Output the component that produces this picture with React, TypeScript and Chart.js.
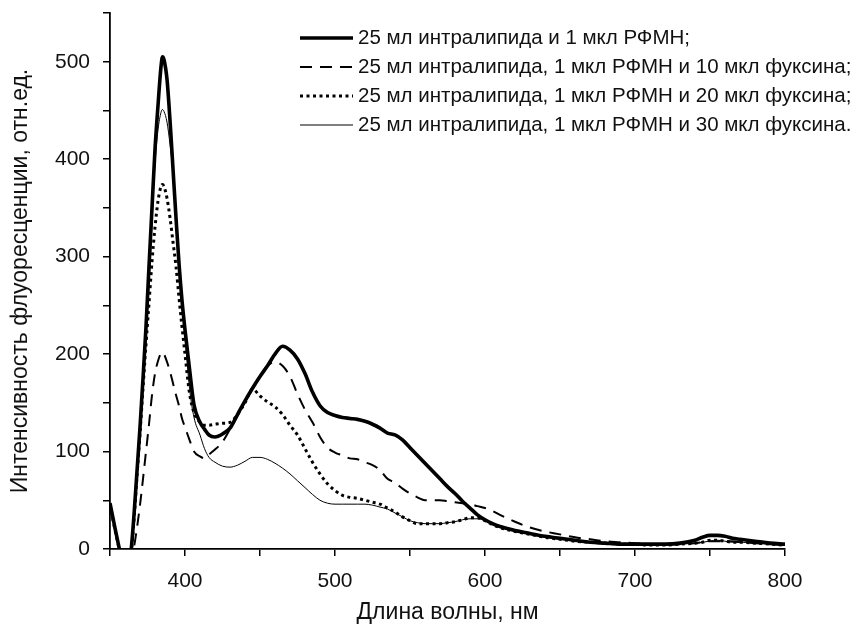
import React, { useEffect, useRef } from 'react';
import { Chart, registerables } from 'chart.js';

Chart.register(...registerables);

// Wavelength grid (nm)
const wavelengths = [
  350, 353, 356, 360, 364, 366, 368, 370, 372, 374,
  376, 378, 380, 382, 384, 385, 386, 388, 390, 392,
  394, 396, 398, 400, 403, 406, 410, 413, 416, 420,
  425, 430, 435, 440, 445, 450, 455, 460, 465, 470,
  475, 480, 485, 490, 495, 500, 505, 510, 515, 520,
  525, 530, 535, 540, 545, 550, 555, 560, 565, 570,
  575, 580, 585, 590, 595, 600, 605, 610, 620, 630,
  640, 650, 660, 670, 680, 690, 700, 710, 720, 730,
  740, 745, 750, 755, 760, 765, 770, 780, 790, 800,
];

const seriesLabels = [
  '25 мл интралипида и 1 мкл РФМН;',
  '25 мл интралипида, 1 мкл РФМН и 10 мкл фуксина;',
  '25 мл интралипида, 1 мкл РФМН и 20 мкл фуксина;',
  '25 мл интралипида, 1 мкл РФМН и 30 мкл фуксина.',
];

const rfmn = [
  47, 24, 2, -25, -2, 35, 80, 125, 175, 228,
  290, 350, 410, 455, 495, 505, 502, 482, 440, 390,
  340, 293, 255, 225, 185, 148, 130, 123, 117, 115,
  118, 124, 138, 152, 165, 177, 188, 200, 208, 204,
  195, 180, 161, 147, 140, 137, 135, 134, 133, 131,
  128, 124, 119, 117, 112, 104, 96, 88, 80, 72,
  64, 57, 49, 42, 35, 30, 26, 23, 19, 16,
  13, 11, 9, 7, 6, 5, 5, 5, 5, 6,
  9, 12, 14, 14, 13, 11, 10, 8, 6, 5,
];

const fuchsin10 = [
  45, 22, 1, -25, -10, 2, 22, 45, 72, 100,
  128, 158, 180, 193, 201, 202, 200, 192, 182, 170,
  158, 147, 134, 125, 112, 100, 95, 93, 97, 102,
  110, 123, 137, 151, 164, 178, 188, 192, 188, 177,
  159, 143, 130, 115, 104, 99, 96, 93, 92, 89,
  86, 81, 72, 68, 62, 57, 53, 50, 50, 50,
  49, 48, 47, 46, 44, 42, 39, 35, 28, 22,
  18, 15, 12, 10, 8, 7, 6, 5, 5, 5,
  6, 7, 8, 8, 8, 8, 7, 6, 5, 4,
];

const fuchsin20 = [
  45, 22, 1, -25, -5, 30, 75, 118, 165, 210,
  252, 295, 330, 357, 372, 374, 372, 360, 340, 315,
  290, 258, 228, 200, 160, 140, 130, 127, 127, 128,
  129, 130, 138, 150, 164, 157, 151, 146, 138, 127,
  117, 103, 89, 77, 67, 60, 55, 53, 52, 50,
  48, 46, 42, 38, 33, 29, 26, 26, 26, 26,
  27, 28, 30, 32, 32, 29, 25, 22, 18, 15,
  12, 10, 8, 7, 6, 5, 5, 4, 4, 5,
  6, 7, 9, 9, 8, 7, 7, 6, 5, 4,
];

const fuchsin30 = [
  45, 22, 1, -25, -2, 38, 78, 120, 165, 215,
  270, 335, 395, 430, 448, 451, 449, 438, 415, 385,
  340, 295, 255, 218, 165, 135, 117, 103, 94, 89,
  85, 84, 86, 90, 94, 94, 92, 88, 83, 77,
  70, 63, 56, 50, 47, 46, 46, 46, 46, 46,
  45, 43, 41, 37, 33, 29, 27, 26, 26, 26,
  27, 28, 30, 31, 31, 29, 25, 22, 18, 15,
  12, 10, 8, 7, 6, 5, 5, 4, 4, 5,
  6, 7, 8, 9, 8, 7, 7, 6, 5, 4,
];

const xTickValues = [350, 400, 450, 500, 550, 600, 650, 700, 750, 800];
const yTickValues = [0, 50, 100, 150, 200, 250, 300, 350, 400, 450, 500, 550];

const xTitle = 'Длина волны, нм';
const yTitle = 'Интенсивность флуоресценции, отн.ед.';

const FONT = "'Liberation Sans', Arial, Helvetica, sans-serif";
const INK = '#111';

export default function App() {
  const ref = useRef<HTMLCanvasElement>(null);

  useEffect(() => {
    if (!ref.current) return;
    const toPts = (arr: number[]) => wavelengths.map((w, i) => ({ x: w, y: arr[i] }));

    const styles = [
      { borderWidth: 3.6, borderDash: [] as number[] },
      { borderWidth: 2, borderDash: [12, 8] },
      { borderWidth: 3, borderDash: [3, 3.5] },
      { borderWidth: 1, borderDash: [] as number[] },
    ];
    const values = [rfmn, fuchsin10, fuchsin20, fuchsin30];

    const legendPlugin = {
      id: 'lineLegend',
      afterDraw(chart: any) {
        const ctx = chart.ctx;
        const area = chart.chartArea;
        ctx.save();
        chart.data.datasets.forEach((ds: any, i: number) => {
          const y = area.top + 25 + i * 29;
          const x0 = area.left + 190;
          const x1 = area.left + 243;
          ctx.beginPath();
          ctx.setLineDash(ds.borderDash || []);
          ctx.lineWidth = ds.borderWidth;
          ctx.strokeStyle = ds.borderColor;
          ctx.moveTo(x0, y);
          ctx.lineTo(x1, y);
          ctx.stroke();
          ctx.setLineDash([]);
          ctx.fillStyle = INK;
          ctx.font = `20.5px ${FONT}`;
          ctx.textBaseline = 'middle';
          ctx.textAlign = 'left';
          ctx.fillText(ds.label, x1 + 5, y);
        });
        ctx.restore();
      },
    };

    const chart = new Chart(ref.current, {
      type: 'line',
      data: {
        datasets: values.map((arr, i) => ({
          label: seriesLabels[i],
          data: toPts(arr),
          borderColor: '#000',
          borderWidth: styles[i].borderWidth,
          borderDash: styles[i].borderDash,
          borderCapStyle: 'butt',
          pointRadius: 0,
          fill: false,
          cubicInterpolationMode: 'monotone',
          clip: 0,
        })),
      },
      options: {
        responsive: false,
        animation: false,
        layout: { padding: { top: 13, right: 76, left: 0, bottom: 0 } },
        plugins: {
          legend: { display: false },
          tooltip: { enabled: false },
        },
        scales: {
          x: {
            type: 'linear',
            min: 350,
            max: 800,
            afterBuildTicks: (s: any) => {
              s.ticks = xTickValues.map((v) => ({ value: v }));
            },
            afterFit: (s: any) => {
              s.height = 84;
              s.paddingLeft = 0;
              s.paddingRight = 0;
            },
            ticks: {
              autoSkip: false,
              maxRotation: 0,
              padding: 13,
              color: INK,
              font: { family: FONT, size: 21 },
              callback: (v: any) => (Number(v) % 100 === 0 ? String(v) : ''),
            },
            grid: {
              display: true,
              drawOnChartArea: false,
              drawTicks: true,
              tickLength: 7,
              color: '#000',
              lineWidth: 1.5,
            },
            border: { display: true, color: '#000', width: 1.8 },
            title: {
              display: true,
              text: xTitle,
              color: INK,
              font: { family: FONT, size: 23 },
              padding: { top: 0, bottom: 7 },
            },
          },
          y: {
            type: 'linear',
            min: 0,
            max: 550,
            afterBuildTicks: (s: any) => {
              s.ticks = yTickValues.map((v) => ({ value: v }));
            },
            afterFit: (s: any) => {
              s.width = 110;
              s.paddingTop = 0;
              s.paddingBottom = 0;
            },
            ticks: {
              autoSkip: false,
              padding: 13,
              color: INK,
              font: { family: FONT, size: 21 },
              callback: (v: any) => (Number(v) % 100 === 0 && Number(v) <= 500 ? String(v) : ''),
            },
            grid: {
              display: true,
              drawOnChartArea: false,
              drawTicks: true,
              tickLength: 7,
              color: '#000',
              lineWidth: 1.5,
            },
            border: { display: true, color: '#000', width: 1.8 },
            title: {
              display: true,
              text: yTitle,
              color: INK,
              font: { family: FONT, size: 23 },
              padding: { top: 7, bottom: 0 },
            },
          },
        },
      },
      plugins: [legendPlugin],
    } as any);

    return () => chart.destroy();
  }, []);

  return (
    <div style={{ position: 'fixed', left: 0, top: 0, width: 861, height: 633, background: '#fff' }}>
      <canvas ref={ref} width={861} height={633} style={{ display: 'block', width: 861, height: 633 }} />
    </div>
  );
}
